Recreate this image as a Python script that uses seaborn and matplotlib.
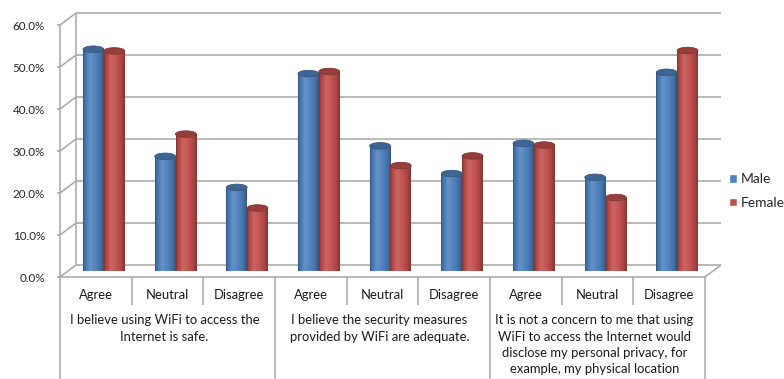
import numpy as np
import pandas as pd
import matplotlib
matplotlib.use("Agg")
import matplotlib.pyplot as plt
import seaborn as sns
from matplotlib.patches import Ellipse, Rectangle
from matplotlib.colors import to_rgb

# ---- data -------------------------------------------------------------
statements = [
    "I believe using WiFi to access the\nInternet is safe.",
    "I believe the security measures\nprovided by WiFi are adequate.",
    "It is not a concern to me that using\nWiFi to access the Internet would\n"
    "disclose my personal privacy, for\nexample, my physical location",
]
responses = ["Agree", "Neutral", "Disagree"]
male = [52.8, 27.3, 19.9, 47.0, 29.8, 23.2, 30.4, 22.3, 47.3]
female = [52.4, 32.6, 15.0, 47.5, 25.1, 27.4, 30.0, 17.5, 52.5]
genders = ["Male", "Female"]
y_ticks = [0, 10, 20, 30, 40, 50, 60]
palette = {"Male": "#4F81BD", "Female": "#C0504D"}

items = [f"Q{q + 1} {r}" for q in range(len(statements)) for r in responses]
df = pd.DataFrame({
    "item": items * 2,
    "Gender": ["Male"] * len(items) + ["Female"] * len(items),
    "value": male + female,
})

# ---- layout (pixels, y from top) -------------------------------------
W, H = 784, 379
FL, FR, FB, FT = 60, 705, 277, 25      # front plane of the plot box
DX, DY = 16, -12                       # depth offset of the back wall
YMAX = 60
n_cells = len(items)
cell = (FR - FL) / n_cells
grid_c = "#A6A6A6"


def fig_rect(l, r, top, bottom):
    return [l / W, 1 - bottom / H, (r - l) / W, (bottom - top) / H]


def front_y(v):
    return FB - (FB - FT) * v / YMAX


sns.set_theme(style="white")
plt.rcParams["font.family"] = ["Lato", "DejaVu Sans"]

fig = plt.figure(figsize=(W / 100, H / 100), dpi=100)
fig.patch.set_facecolor("white")

# ---- walls, floor and category table --------------------------------
deco = fig.add_axes([0, 0, 1, 1], zorder=0)
deco.set_xlim(0, W)
deco.set_ylim(H, 0)
deco.axis("off")
lk = dict(color=grid_c, lw=1.1, solid_capstyle="butt")

for v in y_ticks:
    fy = front_y(v)
    deco.plot([FL + DX, FR + DX], [fy + DY, fy + DY], **lk)      # back-wall grid
    deco.plot([FL, FL + DX], [fy, fy + DY], **lk)                # side wall
    deco.plot([FL - 3, FL], [fy, fy], **lk)                      # tick mark
deco.plot([FL + DX, FL + DX], [FT + DY, FB + DY], **lk)          # back corner
deco.plot([FL, FL], [FT, H], **lk)                               # value axis
deco.plot([FL, FR], [FB, FB], **lk)                              # floor front edge
deco.plot([FR, FR + DX], [FB, FB + DY], **lk)                    # floor right edge

for i in range(1, n_cells + 1):
    x = FL + i * cell
    bottom = H if i % len(responses) == 0 else FB + 28
    deco.plot([x, x], [FB, bottom], **lk)

for v in y_ticks:
    deco.text(FL - 15, front_y(v) + 1, f"{v:.1f}%", ha="right", va="center",
              fontsize=8.4, color="#262626")

for i, it in enumerate(items):
    deco.text(FL + (i + 0.5) * cell, 295, responses[i % len(responses)],
              ha="center", va="center", fontsize=9.4, color="#1a1a1a")

for q, s in enumerate(statements):
    xc = FL + (q * 3 + 1.5) * cell - 3
    deco.text(xc, 314.5, s, ha="center", va="top", fontsize=9.4,
              color="#1a1a1a", linespacing=1.42)

# ---- cylinders -------------------------------------------------------
ax = fig.add_axes(fig_rect(FL + DX / 2, FR + DX / 2, FT + DY / 2, FB + DY / 2),
                  zorder=2)
ax.patch.set_alpha(0)
sns.barplot(data=df, x="item", y="value", hue="Gender", order=items,
            hue_order=genders, palette=palette, width=0.58, gap=0,
            saturation=1, ax=ax, legend=True)
handles, labels = ax.get_legend_handles_labels()
ax.get_legend().remove()

px_per_unit = (FB - FT) / YMAX
ey = 6.5 / px_per_unit              # ellipse height of the caps, data units

t_pts = [0.0, 0.07, 0.33, 0.65, 0.9, 1.0]
f_pts = [0.62, 0.86, 1.13, 1.0, 0.82, 0.64]
tt = np.linspace(0, 1, 80)
ff = np.interp(tt, t_pts, f_pts)


def gradient(base):
    c = np.array(to_rgb(base))
    out = np.where(ff[:, None] < 1, c[None, :] * ff[:, None],
                   c[None, :] + (1 - c[None, :]) * (ff[:, None] - 1))
    return np.clip(out, 0, 1)[None, :, :]


for cont, g in zip(ax.containers, genders):
    img = gradient(palette[g])
    cap = np.clip(np.array(to_rgb(palette[g])) * 0.78, 0, 1)
    for bar in cont:
        x0, w, h = bar.get_x(), bar.get_width(), bar.get_height()
        xc = x0 + w / 2
        bar.set_visible(False)
        base_e = Ellipse((xc, 0), w, ey, transform=ax.transData)
        im = ax.imshow(img, extent=(x0, x0 + w, -ey, h), aspect="auto",
                       interpolation="bilinear", zorder=2)
        im.set_clip_path(base_e)
        body = Rectangle((x0, 0), w, h, transform=ax.transData)
        im2 = ax.imshow(img, extent=(x0, x0 + w, -ey, h), aspect="auto",
                        interpolation="bilinear", zorder=3)
        im2.set_clip_path(body)
        ax.add_patch(Ellipse((xc, h), w, ey, facecolor=cap,
                             edgecolor=cap * 0.85, lw=0.6, zorder=4))

ax.set_xlim(-0.5, n_cells - 0.5)
ax.set_ylim(0, YMAX)
ax.axis("off")

fig.legend(handles, labels, loc="center left",
           bbox_to_anchor=(723 / W, 1 - 191 / H), frameon=False,
           fontsize=10, handlelength=0.6, handleheight=0.6,
           handletextpad=0.3, labelspacing=0.85, borderaxespad=0)

fig.savefig("out.png", dpi=100, facecolor="white")
